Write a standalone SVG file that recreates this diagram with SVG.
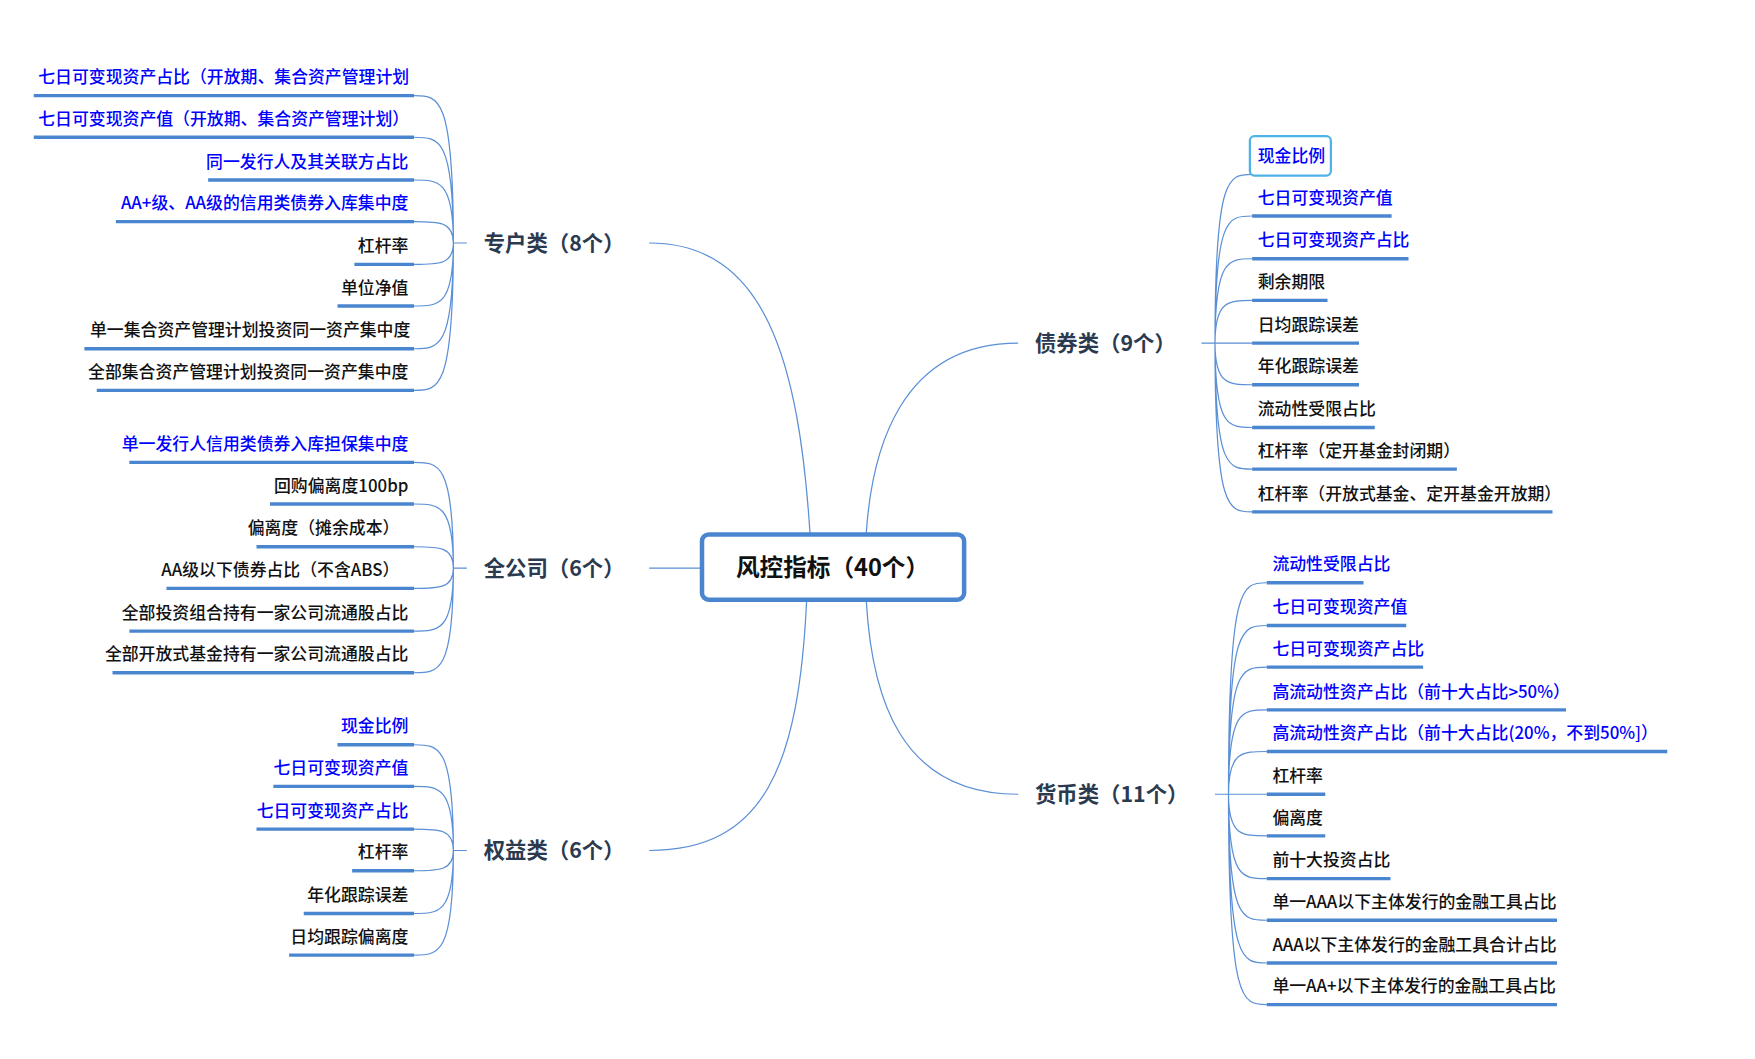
<svg xmlns="http://www.w3.org/2000/svg" width="1755" height="1059" viewBox="0 0 1755 1059">
<style>
.t{font-family:"Noto Sans CJK SC","Liberation Sans",sans-serif;font-size:15px;font-weight:500}
.b{fill:#0000ff}.k{fill:#111}
.br{font-family:"Noto Sans CJK SC","Liberation Sans",sans-serif;font-size:19px;font-weight:bold;fill:#2b3a4f}
.u{stroke:#4a86d0;stroke-width:3;fill:none}
.c{stroke:#5b8fd6;stroke-width:1.1;fill:none}
</style>
<rect width="1755" height="1059" fill="#fff"/>
<g transform="scale(1.125)">
<g id="connectors" class="c">
<path d="M577,216 C680,216 710,320 720,474"/>
<path d="M577,505 H623"/>
<path d="M577,756 C680,756 710,680 717,534"/>
<path d="M905,305 C800,305 775,400 770,474"/>
<path d="M905,706 C800,706 775,620 770,534"/>
<path d="M403,216 H415 M403,505 H415 M403,756 H415 M1068,305 H1080 M1080,706 H1092"/>
<path d="M403,216 C403,85 390,85 368,85 M403,216 C403,122 390,122 368,122 M403,216 C403,160 390,160 368,160 M403,216 C403,197 390,197 368,197 M403,216 C403,235 390,235 368,235 M403,216 C403,272 390,272 368,272 M403,216 C403,310 390,310 368,310 M403,216 C403,347 390,347 368,347"/>
<path d="M403,505 C403,411 390,411 368,411 M403,505 C403,448 390,448 368,448 M403,505 C403,486 390,486 368,486 M403,505 C403,523 390,523 368,523 M403,505 C403,561 390,561 368,561 M403,505 C403,598 390,598 368,598"/>
<path d="M403,756 C403,662 390,662 368,662 M403,756 C403,699 390,699 368,699 M403,756 C403,737 390,737 368,737 M403,756 C403,774 390,774 368,774 M403,756 C403,812 390,812 368,812 M403,756 C403,849 390,849 368,849"/>
<path d="M1080,305 C1080,155 1092,155 1113,155 M1080,305 C1080,192 1092,192 1113,192 M1080,305 C1080,230 1092,230 1113,230 M1080,305 C1080,267 1092,267 1113,267 M1080,305 C1080,305 1092,305 1113,305 M1080,305 C1080,342 1092,342 1113,342 M1080,305 C1080,380 1092,380 1113,380 M1080,305 C1080,417 1092,417 1113,417 M1080,305 C1080,455 1092,455 1113,455"/>
<path d="M1092,706 C1092,518 1104,518 1126,518 M1092,706 C1092,556 1104,556 1126,556 M1092,706 C1092,593 1104,593 1126,593 M1092,706 C1092,631 1104,631 1126,631 M1092,706 C1092,668 1104,668 1126,668 M1092,706 C1092,706 1104,706 1126,706 M1092,706 C1092,743 1104,743 1126,743 M1092,706 C1092,781 1104,781 1126,781 M1092,706 C1092,818 1104,818 1126,818 M1092,706 C1092,856 1104,856 1126,856 M1092,706 C1092,893 1104,893 1126,893"/>
</g>
<g id="root"><rect x="624" y="475" width="233" height="58" rx="6" fill="#fff" stroke="#4a86d0" stroke-width="4"/><text x="740" y="512" text-anchor="middle" class="br" style="font-size:21px;fill:#111">风控指标（40个）</text></g>
<g id="b1"><text x="430" y="223" class="br">专户类（8个）</text></g>
<g id="b2"><text x="430" y="512" class="br">全公司（6个）</text></g>
<g id="b3"><text x="430" y="763" class="br">权益类（6个）</text></g>
<g id="b4"><text x="920" y="312" class="br">债券类（9个）</text></g>
<g id="b5"><text x="920" y="713" class="br">货币类（11个）</text></g>
<g id="l1" class="t">
<path class="u" d="M30,85H368M30,122H368M185,160H368M103,197H368M315,235H368M300,272H368M75,310H368M86,347H368"/>
<text x="34" y="74" class="b">七日可变现资产占比（开放期、集合资产管理计划</text>
<text x="34" y="111" class="b">七日可变现资产值（开放期、集合资产管理计划）</text>
<text x="363" y="149" text-anchor="end" class="b">同一发行人及其关联方占比</text>
<text x="363" y="186" text-anchor="end" class="b">AA+级、AA级的信用类债券入库集中度</text>
<text x="363" y="224" text-anchor="end" class="k">杠杆率</text>
<text x="363" y="261" text-anchor="end" class="k">单位净值</text>
<text x="80" y="299" class="k">单一集合资产管理计划投资同一资产集中度</text>
<text x="363" y="336" text-anchor="end" class="k">全部集合资产管理计划投资同一资产集中度</text>
</g>
<g id="l2" class="t">
<path class="u" d="M115,411H368M240,448H368M228,486H368M148,523H368M115,561H368M100,598H368"/>
<text x="363" y="400" text-anchor="end" class="b">单一发行人信用类债券入库担保集中度</text>
<text x="363" y="437" text-anchor="end" class="k">回购偏离度100bp</text>
<text x="355" y="475" text-anchor="end" class="k">偏离度（摊余成本）</text>
<text x="355" y="512" text-anchor="end" class="k">AA级以下债券占比（不含ABS）</text>
<text x="363" y="550" text-anchor="end" class="k">全部投资组合持有一家公司流通股占比</text>
<text x="363" y="587" text-anchor="end" class="k">全部开放式基金持有一家公司流通股占比</text>
</g>
<g id="l3" class="t">
<path class="u" d="M300,662H368M243,699H368M228,737H368M313,774H368M270,812H368M257,849H368"/>
<text x="363" y="651" text-anchor="end" class="b">现金比例</text>
<text x="363" y="688" text-anchor="end" class="b">七日可变现资产值</text>
<text x="363" y="726" text-anchor="end" class="b">七日可变现资产占比</text>
<text x="363" y="763" text-anchor="end" class="k">杠杆率</text>
<text x="363" y="801" text-anchor="end" class="k">年化跟踪误差</text>
<text x="363" y="838" text-anchor="end" class="k">日均跟踪偏离度</text>
</g>
<g id="l4" class="t">
<rect x="1111" y="121" width="72" height="35" rx="4" fill="#fff" stroke="#4fb3e8" stroke-width="2"/>
<path class="u" d="M1113,192H1237M1113,230H1252M1113,267H1180M1113,305H1208M1113,342H1208M1113,380H1222M1113,417H1295M1113,455H1380"/>
<text x="1118" y="144" class="b">现金比例</text>
<text x="1118" y="181" class="b">七日可变现资产值</text>
<text x="1118" y="219" class="b">七日可变现资产占比</text>
<text x="1118" y="256" class="k">剩余期限</text>
<text x="1118" y="294" class="k">日均跟踪误差</text>
<text x="1118" y="331" class="k">年化跟踪误差</text>
<text x="1118" y="369" class="k">流动性受限占比</text>
<text x="1118" y="406" class="k">杠杆率（定开基金封闭期）</text>
<text x="1118" y="444" class="k">杠杆率（开放式基金、定开基金开放期）</text>
</g>
<g id="l5" class="t">
<path class="u" d="M1126,518H1212M1126,556H1250M1126,593H1265M1126,631H1392M1126,668H1482M1126,706H1178M1126,743H1178M1126,781H1236M1126,818H1384M1126,856H1384M1126,893H1384"/>
<text x="1131" y="507" class="b">流动性受限占比</text>
<text x="1131" y="545" class="b">七日可变现资产值</text>
<text x="1131" y="582" class="b">七日可变现资产占比</text>
<text x="1131" y="620" class="b">高流动性资产占比（前十大占比&gt;50%）</text>
<text x="1131" y="657" class="b">高流动性资产占比（前十大占比(20%，不到50%]）</text>
<text x="1131" y="695" class="k">杠杆率</text>
<text x="1131" y="732" class="k">偏离度</text>
<text x="1131" y="770" class="k">前十大投资占比</text>
<text x="1131" y="807" class="k">单一AAA以下主体发行的金融工具占比</text>
<text x="1131" y="845" class="k">AAA以下主体发行的金融工具合计占比</text>
<text x="1131" y="882" class="k">单一AA+以下主体发行的金融工具占比</text>
</g>
</g>
</svg>
